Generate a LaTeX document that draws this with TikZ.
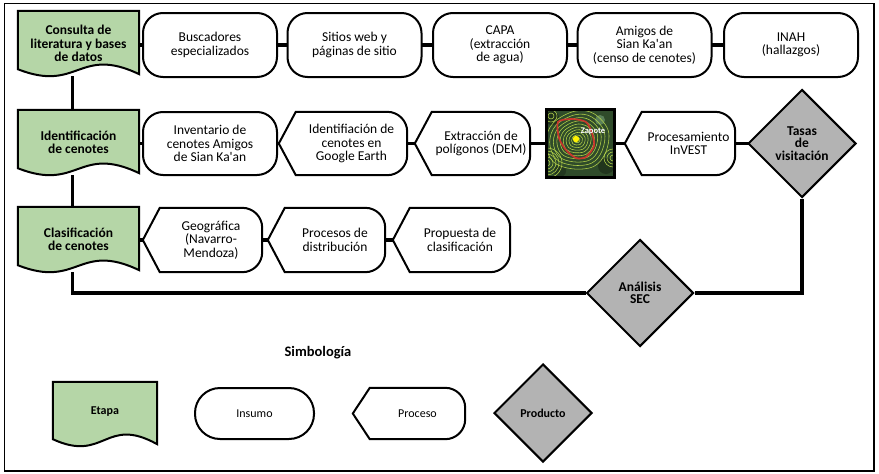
\documentclass[tikz,border=0pt]{standalone}
\usepackage{fontspec}
\setmainfont{Carlito}
\usetikzlibrary{shapes.geometric,calc}
\pgfdeclarelayer{bg}
\pgfdeclarelayer{shp}
\pgfsetlayers{bg,shp,main}

\definecolor{etgreen}{HTML}{B5D6A7}
\definecolor{prodgray}{HTML}{B3B3B3}
\definecolor{mapdark}{HTML}{2F4B2A}
\definecolor{contourc}{HTML}{B4D24A}
\definecolor{mapred}{HTML}{C8372D}

\tikzset{
  txt/.style={font=\fontsize{13.5}{13.5}\selectfont, align=center, inner sep=0pt},
  etapatext/.style={txt, font=\fontsize{13.5}{13.5}\selectfont\bfseries},
  etapashape/.style={draw=black, line width=2pt, fill=etgreen, line join=miter},
  insumo/.style={txt, draw=black, line width=2pt, fill=white, rounded corners=20pt,
    minimum width=134pt, minimum height=64pt},
  procshape/.style={draw=black, line width=2pt, fill=white},
  producto/.style={diamond, draw=black, line width=2pt, fill=prodgray, inner sep=0pt,
    align=center, font=\fontsize{13.5}{12.5}\selectfont\bfseries},
  link/.style={line width=3.5pt, draw=black},
  legtxt/.style={font=\fontsize{12}{12}\selectfont},
  legbold/.style={font=\fontsize{12}{12}\selectfont\bfseries},
  contourline/.style={draw=contourc, line width=0.55pt}
}

% #1 opts, #2 name, #3 x-left, #4 y-top, #5 width, #6 height, #7 text
\newcommand\EtapaBox[7][]{%
  \node[etapatext, minimum width=#5pt, minimum height=#6pt, #1] (#2) at ({#3+#5/2},{-#4-#6/2}) {#7};
  \begin{pgfonlayer}{shp}
    \draw[etapashape] (#2.north west) -- (#2.north east) -- ([yshift=2pt]#2.south east)
      .. controls ([yshift=31pt]#2.south) and ([yshift=-17pt]#2.south) .. ([yshift=7pt]#2.south west) -- cycle;
  \end{pgfonlayer}}

% #1 opts, #2 name, #3 x-left (point), #4 x-right, #5 y-centre, #6 height, #7 text
\newcommand\ProcBox[7][]{%
  \node[txt, minimum width={#4-#3-17}, minimum height=#6pt, #1] (#2) at ({(#3+17+#4)/2},{-#5}) {#7};
  \begin{pgfonlayer}{shp}
    \draw[procshape] ([xshift=-17pt]#2.west) -- (#2.north west) -- ([xshift=-20pt]#2.north east)
      arc[start angle=90, end angle=0, radius=20pt] -- ([yshift=20pt]#2.south east)
      arc[start angle=0, end angle=-90, radius=20pt] -- (#2.south west) -- cycle;
  \end{pgfonlayer}}

\begin{document}
\begin{tikzpicture}[x=1pt, y=1pt]
\useasboundingbox (0,0) rectangle (879,-474);
\draw[line width=1.5pt] (4.5,-3.5) rectangle (874,-471);

% ---- row 1
\EtapaBox{e1}{18}{11}{121}{65}{Consulta de\\literatura y bases\\de datos}
\node[insumo] (b1) at (210,-45) {Buscadores\\especializados};
\node[insumo] (b2) at (354.5,-45) {Sitios web y\\páginas de sitio};
\node[insumo] (b3) at (500,-45) {CAPA\\(extracción\\de agua)};
\node[insumo] (b4) at (644.5,-45) {Amigos de\\Sian Ka\textquotesingle an\\(censo de cenotes)};
\node[insumo] (b5) at (791,-45) {INAH\\(hallazgos)};

% ---- row 2
\EtapaBox{e2}{18}{110}{121}{65}{Identificación\\de cenotes}
\node[insumo, minimum height=63pt] (inv) at (210,-143.5) {Inventario de\\cenotes Amigos\\de Sian Ka\textquotesingle an};
\ProcBox{ident}{279}{407}{143.5}{63}{Identifiación de\\cenotes en\\Google Earth}
\ProcBox{extr}{415}{530}{143.5}{63}{Extracción de\\polígonos (DEM)}
\node[draw=black, line width=3pt, minimum width=68pt, minimum height=68pt, inner sep=0pt] (map) at (580.5,-143.5) {};
\ProcBox{invest}{625}{735}{143.5}{63}{Procesamiento\\InVEST}
\node[producto, minimum width=108pt, minimum height=108pt] (tasas) at (802,-143.5) {Tasas\\de\\visitación};

% ---- row 3
\EtapaBox{e3}{18}{207}{121}{65}{Clasificación\\de cenotes}
\ProcBox{geog}{143}{262}{240}{64}{Geográfica\\(Navarro-\\Mendoza)}
\ProcBox{procd}{268}{385}{240}{64}{Procesos de\\distribución}
\ProcBox{prop}{393}{510}{240}{64}{Propuesta de\\clasificación}
\node[producto, minimum width=107pt, minimum height=107pt] (sec) at (640,-293) {Análisis\\SEC};

% ---- legend
\node[font=\fontsize{14.5}{14.5}\selectfont\bfseries, inner sep=0pt] (simb) at (318,-353) {Simbología};
\EtapaBox[legbold]{legE}{53}{382}{104}{64}{\raisebox{7pt}{Etapa}}
\node[insumo, legtxt, rounded corners=25pt, minimum width=119pt, minimum height=51pt] (legI) at (254.5,-413.5) {Insumo};
\ProcBox[legtxt]{legP}{353}{465}{413.5}{51}{Proceso}
\node[producto, legbold, minimum width=98pt, minimum height=98pt] (legD) at (543,-413) {Producto};

% ---- map picture
\begin{pgfonlayer}{shp}
\begin{scope}
  \clip (map.south west) rectangle (map.north east);
  \fill[mapdark] (map.south west) rectangle (map.north east);
  \fill[black!35!mapdark] (552,-118) circle (7pt);
  \fill[black!30!mapdark] (606,-166) circle (8pt);
  \fill[black!25!mapdark] (560,-171) circle (6pt);
  \fill[mapdark!70!green!40!gray] (600,-120) circle (5pt);
  \foreach \s in {0.22,0.42,0.62,0.84,1.06,1.3,1.55,1.82,2.1,2.4}
    \draw[contourline, shift={(577,-140)}, scale=\s] plot[smooth cycle, tension=0.6] coordinates
      {(-1,12) (7,11) (13,4) (12,-5) (7,-11) (-2,-12) (-10,-9) (-13,-1) (-10,7)};
  \foreach \r in {3,6,9,12,15}
    \draw[contourline] (547,-163) circle (\r pt);
  \foreach \r in {3,6,9}
    \draw[contourline] (613,-158) circle (\r pt);
  \foreach \r in {3,6}
    \draw[contourline] (551,-116) circle (\r pt);
  \draw[mapred, line width=1.7pt] plot[smooth cycle, tension=0.45] coordinates
    {(558,-122) (572,-119) (586,-122) (592,-133) (594,-146) (586,-157) (576,-158) (566,-150) (559,-138)};
  \fill[yellow] (576,-139) circle (3.2pt);
  \node[text=white, font=\fontsize{8.5}{8.5}\selectfont\bfseries, inner sep=0pt] (zap) at (593,-131) {Zapote};
\end{scope}
\end{pgfonlayer}

% ---- connectors
\begin{pgfonlayer}{bg}
  \draw[link] (b1.west -| e1.east) -- (b1.center) -- (b2.center) -- (b3.center) -- (b4.center) -- (b5.center);
  \draw[link] ([xshift=-6pt]e1.south) -- ([xshift=-6pt]e2.north);
  \draw[link] ([xshift=-6pt]e2.south) -- ([xshift=-6pt]e3.north);
  \draw[link] (inv.west -| e2.east) -- (inv.center) -- (ident.center) -- (extr.center) -- (map.center) -- (invest.center) -- (tasas.center);
  \draw[link] (geog.west -| e3.east) -- (geog.center) -- (procd.center) -- (prop.center);
  \draw[link] ([xshift=-6pt]e3.south) |- (sec.west);
  \draw[link] (sec.east) -| (tasas.south);
\end{pgfonlayer}
\end{tikzpicture}
\end{document}
